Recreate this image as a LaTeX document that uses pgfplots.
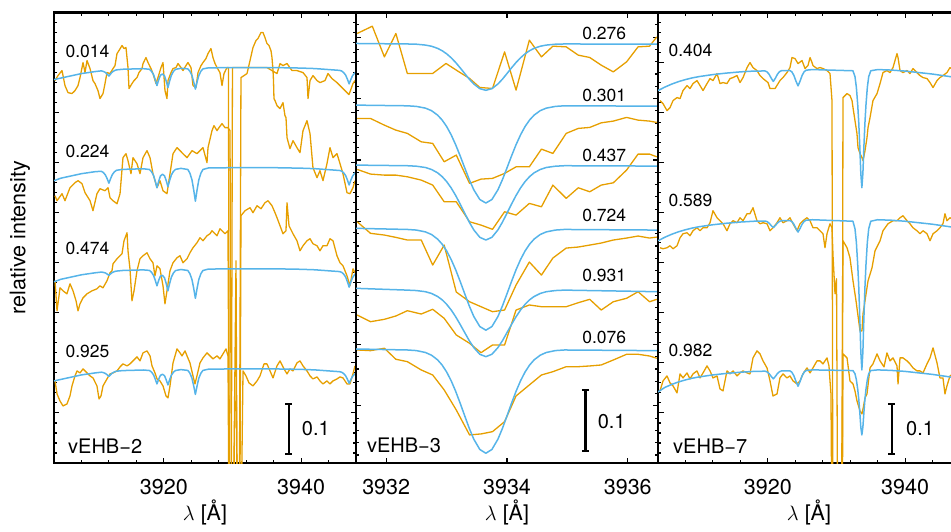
\documentclass[border=0pt]{standalone}
\usepackage{fontspec}
\setmainfont{TeX Gyre Heros}
\usepackage{pgfplots}
\pgfplotsset{compat=1.18}
\usepackage{pgfplotstable}

\definecolor{obs}{RGB}{230,159,0}
\definecolor{mod}{RGB}{86,180,233}

\pgfplotsset{
  spec/.style={
    scale only axis, width=302pt, height=450.5pt,
    axis line style={line width=2.6pt},
    tick style={line width=1.1pt, black},
    major tick length=5.5pt, minor tick length=3pt,
    tick align=inside, tick pos=both, xticklabel pos=lower,
    yticklabels={},
    xticklabel style={font=\fontsize{21.5}{26}\selectfont, anchor=center, yshift=-24pt},
    /pgf/number format/assume math mode=true,
    /pgf/number format/1000 sep={},
    xlabel={$\lambda$ [Å]},
    xlabel style={font=\fontsize{21.5}{26}\selectfont, at={(axis description cs:0.5,-0.11)}, anchor=center},
  },
  wide/.style={xmin=3904, xmax=3948, ymin=0.1, ymax=1.0,
    xtick={3900,3920,3940,3960}, minor x tick num=4,
    ytick={0.1,0.2,...,1.0}, minor y tick num=4},
  obsline/.style={obs, line width=1.3pt, line join=round},
  modline/.style={mod, line width=1.5pt, line join=round},
}
\newcommand{\phasefont}{\fontsize{17.5}{20}\selectfont}
\newcommand{\namefont}{\fontsize{20}{24}\selectfont}

% model spectra, left panel (vEHB-2), one column per phase
\pgfplotstableread{
lam b1 b2 b3 b4
3904 0.866 0.664 0.462 0.264
3905 0.869 0.669 0.467 0.267
3906 0.872 0.672 0.470 0.270
3907 0.875 0.675 0.473 0.273
3908 0.878 0.678 0.476 0.276
3909 0.880 0.680 0.478 0.278
3910 0.882 0.682 0.480 0.280
3910.9 0.8834 0.6828 0.4814 0.2814
3911.2 0.8822 0.6802 0.4808 0.2806
3911.5 0.8802 0.6752 0.4796 0.2788
3911.75 0.8768 0.6678 0.4774 0.2762
3912.0 0.8730 0.6590 0.4750 0.2730
3912.25 0.8774 0.6682 0.4780 0.2766
3912.5 0.8812 0.6762 0.4806 0.2798
3912.8 0.8838 0.6816 0.4824 0.2820
3913.1 0.8854 0.6848 0.4834 0.2834
3914 0.8866 0.6866 0.4846 0.2846
3915.5 0.8872 0.6872 0.4852 0.2852
3917 0.8878 0.6878 0.4858 0.2858
3917.9 0.8866 0.6864 0.4848 0.2848
3918.2 0.8828 0.6822 0.4812 0.2818
3918.5 0.8760 0.6746 0.4748 0.2762
3918.75 0.8658 0.6632 0.4652 0.2678
3919.0 0.8540 0.6500 0.4540 0.2580
3919.25 0.8654 0.6628 0.4648 0.2674
3919.5 0.8746 0.6732 0.4732 0.2750
3919.8 0.8772 0.6769 0.4749 0.2773
3920.1 0.8734 0.6738 0.4700 0.2744
3920.35 0.8630 0.6642 0.4584 0.2662
3920.6 0.8500 0.6520 0.4440 0.2560
3920.85 0.8632 0.6646 0.4586 0.2664
3921.1 0.8746 0.6754 0.4712 0.2754
3921.4 0.8822 0.6826 0.4796 0.2814
3921.7 0.8864 0.6866 0.4844 0.2848
3922.5 0.8886 0.6886 0.4866 0.2866
3923.5 0.8874 0.6864 0.4846 0.2850
3923.8 0.8826 0.6790 0.4782 0.2794
3924.1 0.8742 0.6658 0.4666 0.2694
3924.35 0.8616 0.6460 0.4492 0.2544
3924.6 0.8470 0.6230 0.4290 0.2370
3924.85 0.8616 0.6460 0.4492 0.2544
3925.1 0.8742 0.6658 0.4666 0.2694
3925.4 0.8826 0.6790 0.4782 0.2794
3925.7 0.8874 0.6864 0.4846 0.2850
3926.5 0.8894 0.6894 0.4874 0.2874
3930 0.890 0.690 0.488 0.288
3936 0.890 0.690 0.488 0.288
3940 0.889 0.689 0.487 0.287
3942 0.888 0.688 0.486 0.286
3944 0.886 0.686 0.484 0.284
3945.6 0.8844 0.6844 0.4824 0.2824
3945.9 0.8832 0.6832 0.4811 0.2814
3946.2 0.8800 0.6798 0.4775 0.2787
3946.5 0.8747 0.6740 0.4713 0.2741
3946.75 0.8667 0.6654 0.4621 0.2673
3947.0 0.8574 0.6554 0.4514 0.2594
3947.25 0.8663 0.6650 0.4617 0.2669
3947.5 0.8739 0.6732 0.4705 0.2733
3947.8 0.8789 0.6786 0.4763 0.2775
3948 0.8810 0.6810 0.4788 0.2792
}\modtwo

% model spectra, middle panel (vEHB-3)
\pgfplotstableread{
lam m1 m2 m3 m4 m5 m6
3931.5 1.0896 0.9893 0.8917 0.7888 0.6912 0.5925
3932.35 1.0888 0.9882 0.8907 0.7870 0.6883 0.5909
3932.5 1.0884 0.9872 0.8899 0.7860 0.6876 0.5899
3932.65 1.0870 0.9844 0.8878 0.7830 0.6857 0.5868
3932.75 1.0851 0.9803 0.8846 0.7788 0.6829 0.5824
3932.85 1.0817 0.9731 0.8792 0.7714 0.6780 0.5749
3932.925 1.0779 0.9652 0.8731 0.7632 0.6726 0.5665
3933.0 1.0728 0.9546 0.8650 0.7522 0.6653 0.5552
3933.075 1.0664 0.9411 0.8547 0.7382 0.6561 0.5409
3933.15 1.0587 0.9249 0.8423 0.7215 0.6450 0.5237
3933.225 1.0499 0.9066 0.8283 0.7024 0.6324 0.5042
3933.3 1.0407 0.8872 0.8135 0.6824 0.6192 0.4837
3933.375 1.0316 0.8682 0.7990 0.6627 0.6061 0.4635
3933.45 1.0237 0.8516 0.7863 0.6454 0.5948 0.4458
3933.55 1.0161 0.8357 0.7742 0.6290 0.5839 0.4290
3933.65 1.0134 0.8300 0.7698 0.6231 0.5800 0.4229
3933.75 1.0161 0.8357 0.7742 0.6290 0.5839 0.4290
3933.85 1.0237 0.8516 0.7863 0.6454 0.5948 0.4458
3933.925 1.0316 0.8682 0.7990 0.6627 0.6061 0.4635
3934.0 1.0407 0.8872 0.8135 0.6824 0.6192 0.4837
3934.075 1.0499 0.9066 0.8283 0.7024 0.6324 0.5042
3934.15 1.0587 0.9249 0.8423 0.7215 0.6450 0.5237
3934.225 1.0664 0.9411 0.8547 0.7382 0.6561 0.5409
3934.3 1.0728 0.9546 0.8650 0.7522 0.6653 0.5552
3934.375 1.0779 0.9652 0.8731 0.7632 0.6726 0.5665
3934.45 1.0817 0.9731 0.8792 0.7714 0.6780 0.5749
3934.55 1.0851 0.9803 0.8846 0.7788 0.6829 0.5824
3934.65 1.0870 0.9844 0.8878 0.7830 0.6857 0.5868
3934.8 1.0884 0.9872 0.8899 0.7860 0.6876 0.5899
3934.95 1.0888 0.9882 0.8907 0.7870 0.6883 0.5909
3936.5 1.0885 0.9876 0.8901 0.7860 0.6857 0.5898
}\modthree

% model spectra, right panel (vEHB-7)
\pgfplotstableread{
lam c1 c2 c3
3904 0.844 0.544 0.242
3905 0.851 0.551 0.251
3906 0.857 0.557 0.257
3907 0.862 0.562 0.262
3908 0.866 0.566 0.266
3909 0.8694 0.5694 0.2694
3910 0.872 0.572 0.272
3911 0.874 0.574 0.274
3912 0.876 0.576 0.276
3914 0.879 0.579 0.279
3916 0.8814 0.5814 0.2814
3918 0.883 0.583 0.283
3919.6 0.8832 0.5834 0.2834
3919.9 0.8812 0.5822 0.2820
3920.2 0.8762 0.5790 0.2784
3920.5 0.8686 0.5742 0.2728
3920.8 0.8622 0.5702 0.2682
3921.1 0.8688 0.5744 0.2730
3921.4 0.8766 0.5794 0.2787
3921.7 0.8818 0.5828 0.2824
3922.0 0.8838 0.5840 0.2840
3923.2 0.8842 0.5844 0.2842
3923.5 0.8814 0.5824 0.2814
3923.8 0.8742 0.5770 0.2742
3924.1 0.8630 0.5686 0.2630
3924.4 0.8534 0.5614 0.2534
3924.7 0.8630 0.5686 0.2630
3925.0 0.8744 0.5772 0.2744
3925.3 0.8818 0.5828 0.2818
3925.6 0.8848 0.5850 0.2848
3926.5 0.886 0.586 0.286
3932.4 0.8836 0.5830 0.2847
3932.7 0.8718 0.5680 0.2782
3932.9 0.8506 0.5410 0.2665
3933.1 0.8152 0.4960 0.2470
3933.25 0.7798 0.4510 0.2275
3933.4 0.7326 0.3910 0.2015
3933.55 0.6784 0.3220 0.1716
3933.7 0.6500 0.2860 0.1560
3933.85 0.6784 0.3220 0.1716
3934.0 0.7326 0.3910 0.2015
3934.15 0.7798 0.4510 0.2275
3934.3 0.8152 0.4960 0.2470
3934.5 0.8506 0.5410 0.2665
3934.7 0.8718 0.5680 0.2782
3935.0 0.8836 0.5830 0.2847
3936 0.886 0.586 0.286
3938 0.885 0.585 0.285
3940 0.883 0.583 0.283
3942 0.880 0.580 0.280
3944 0.877 0.577 0.277
3946 0.873 0.573 0.273
3948 0.869 0.569 0.269
}\modseven

\begin{document}
\begin{tikzpicture}
\useasboundingbox (0pt,0pt) rectangle (951pt,531pt);

% ---------------- vEHB-2 ----------------
\begin{axis}[spec, wide, at={(54pt,68pt)}, anchor=south west,
  ylabel={relative intensity},
  ylabel style={font=\fontsize{21.5}{26}\selectfont, at={(axis description cs:-0.113,0.5)}, anchor=center}]
\addplot[obsline] coordinates {(3904.15,0.864) (3904.58,0.874) (3905.17,0.884) (3905.60,0.854) (3906.04,0.840) (3906.62,0.838) (3907.06,0.844) (3907.50,0.854) (3907.79,0.870) (3908.23,0.900) (3908.52,0.880) (3908.81,0.904) (3909.25,0.888) (3909.68,0.864) (3909.97,0.858) (3910.41,0.844) (3910.70,0.828) (3911.14,0.838) (3911.43,0.858) (3911.72,0.880) (3912.16,0.878) (3912.60,0.888) (3912.89,0.894) (3913.18,0.918) (3913.47,0.924) (3913.91,0.934) (3914.20,0.928) (3914.49,0.930) (3914.78,0.890) (3914.93,0.848) (3915.36,0.858) (3915.66,0.864) (3916.09,0.870) (3916.38,0.880) (3916.82,0.888) (3916.97,0.898) (3917.40,0.910) (3917.70,0.900) (3918.13,0.888) (3918.42,0.878) (3918.86,0.858) (3919.15,0.870) (3919.59,0.890) (3919.88,0.900) (3920.17,0.844) (3920.46,0.828) (3920.61,0.864) (3921.05,0.880) (3921.34,0.888) (3921.77,0.890) (3922.07,0.898) (3922.50,0.890) (3922.79,0.884) (3923.23,0.894) (3923.52,0.900) (3923.96,0.890) (3924.25,0.854) (3924.69,0.850) (3924.98,0.880) (3925.42,0.894) (3925.71,0.900) (3926.14,0.908) (3926.44,0.918) (3926.87,0.928) (3927.16,0.910) (3927.46,0.898) (3927.75,0.890) (3928.18,0.880) (3928.48,0.854) (3928.77,0.878) (3929.20,0.890) (3929.42,0.890) (3929.57,-0.2) (3929.79,-0.2) (3930.00,0.890) (3934.01,0.890) (3934.45,0.890) (3935.03,0.890) (3935.76,0.884) (3936.49,0.878) (3936.93,0.898) (3937.36,0.894) (3937.95,0.898) (3938.67,0.884) (3939.40,0.884) (3940.28,0.880) (3940.86,0.870) (3941.01,0.828) (3941.30,0.864) (3941.73,0.874) (3942.32,0.864) (3942.75,0.860) (3943.48,0.864) (3943.92,0.878) (3944.50,0.868) (3945.23,0.860) (3945.96,0.850) (3946.69,0.840) (3946.98,0.836) (3947.56,0.858) (3947.85,0.864)};
\addplot[obsline] coordinates {(3904.15,0.634) (3904.44,0.624) (3905.17,0.638) (3905.60,0.624) (3906.33,0.650) (3907.06,0.660) (3907.50,0.664) (3908.08,0.658) (3908.52,0.640) (3909.25,0.624) (3909.68,0.604) (3910.26,0.638) (3910.70,0.648) (3911.43,0.644) (3911.87,0.650) (3912.16,0.630) (3912.60,0.624) (3913.18,0.618) (3913.62,0.638) (3914.05,0.710) (3914.49,0.718) (3914.78,0.704) (3915.22,0.678) (3915.51,0.710) (3916.09,0.698) (3916.53,0.678) (3916.97,0.710) (3917.55,0.724) (3917.99,0.710) (3918.42,0.678) (3919.01,0.650) (3919.44,0.664) (3919.88,0.644) (3920.46,0.638) (3920.90,0.678) (3921.34,0.718) (3921.92,0.730) (3922.36,0.724) (3922.79,0.718) (3923.38,0.710) (3924.11,0.724) (3924.83,0.718) (3925.27,0.724) (3925.71,0.730) (3926.29,0.700) (3926.44,0.730) (3927.02,0.764) (3927.31,0.774) (3927.75,0.764) (3928.04,0.770) (3928.48,0.778) (3928.91,0.770) (3929.35,0.770) (3929.64,0.764) (3929.93,-0.2) (3930.95,-0.2) (3931.24,0.870) (3931.68,0.874) (3932.12,0.878) (3932.56,0.904) (3932.99,0.930) (3933.43,0.944) (3933.72,0.948) (3934.16,0.960) (3934.45,0.960) (3934.74,0.950) (3935.03,0.938) (3935.32,0.934) (3935.61,0.924) (3935.76,0.910) (3935.91,0.884) (3935.98,0.864) (3936.05,0.828) (3936.20,0.824) (3936.49,0.814) (3936.93,0.808) (3937.36,0.820) (3937.65,0.794) (3937.80,0.790) (3937.95,0.750) (3938.38,0.728) (3938.82,0.744) (3939.40,0.730) (3939.84,0.720) (3940.28,0.764) (3940.86,0.784) (3941.30,0.758) (3941.73,0.690) (3942.32,0.670) (3942.75,0.684) (3943.19,0.664) (3943.77,0.698) (3944.21,0.730) (3944.65,0.710) (3945.23,0.718) (3945.67,0.698) (3946.10,0.678) (3946.69,0.640) (3947.12,0.638) (3947.56,0.650) (3947.85,0.664)};
\addplot[obsline] coordinates {(3904.15,0.464) (3904.44,0.404) (3904.73,0.434) (3904.87,0.450) (3905.31,0.444) (3905.89,0.438) (3906.33,0.458) (3906.77,0.444) (3907.21,0.424) (3907.50,0.404) (3907.79,0.418) (3908.23,0.430) (3908.81,0.438) (3909.54,0.444) (3910.26,0.448) (3910.70,0.454) (3911.14,0.450) (3911.72,0.464) (3912.16,0.480) (3912.45,0.484) (3912.60,0.498) (3913.18,0.508) (3913.91,0.518) (3914.20,0.544) (3914.64,0.560) (3914.78,0.524) (3915.07,0.488) (3915.36,0.424) (3915.66,0.444) (3916.09,0.484) (3916.53,0.508) (3916.97,0.514) (3917.55,0.520) (3917.99,0.508) (3918.42,0.500) (3918.71,0.474) (3919.01,0.494) (3919.44,0.488) (3919.88,0.454) (3920.17,0.418) (3920.46,0.444) (3920.90,0.484) (3921.34,0.500) (3921.92,0.510) (3922.36,0.514) (3922.79,0.500) (3923.38,0.508) (3923.81,0.520) (3924.25,0.530) (3924.83,0.540) (3925.27,0.550) (3925.71,0.544) (3926.29,0.554) (3926.73,0.558) (3927.02,0.564) (3927.75,0.554) (3928.18,0.568) (3928.91,0.558) (3929.35,0.564) (3929.64,-0.2) (3930.00,-0.2) (3930.52,0.504) (3930.74,-0.2) (3931.03,-0.2) (3931.24,0.594) (3931.83,0.604) (3932.56,0.610) (3932.99,0.600) (3933.58,0.614) (3934.16,0.608) (3934.74,0.620) (3935.18,0.624) (3935.76,0.614) (3936.20,0.600) (3936.49,0.590) (3936.93,0.574) (3937.36,0.558) (3937.80,0.564) (3937.95,0.620) (3938.24,0.574) (3938.82,0.558) (3939.40,0.544) (3939.84,0.524) (3940.28,0.534) (3940.86,0.544) (3941.30,0.548) (3941.73,0.538) (3942.32,0.534) (3942.75,0.524) (3943.19,0.534) (3943.77,0.534) (3944.21,0.548) (3944.65,0.544) (3945.23,0.514) (3945.67,0.500) (3946.10,0.494) (3946.69,0.474) (3947.12,0.454) (3947.56,0.488) (3947.85,0.480)};
\addplot[obsline] coordinates {(3904.15,0.264) (3904.44,0.238) (3904.87,0.224) (3905.31,0.214) (3905.89,0.218) (3906.33,0.234) (3906.62,0.254) (3907.06,0.274) (3907.35,0.284) (3907.79,0.280) (3908.23,0.288) (3908.81,0.280) (3909.25,0.274) (3909.68,0.270) (3910.26,0.254) (3910.56,0.228) (3910.85,0.234) (3911.14,0.254) (3911.72,0.268) (3912.16,0.278) (3912.60,0.280) (3913.18,0.284) (3913.62,0.292) (3914.05,0.298) (3914.64,0.294) (3915.07,0.298) (3915.51,0.304) (3916.09,0.312) (3916.53,0.304) (3916.97,0.320) (3917.55,0.324) (3917.99,0.314) (3918.28,0.294) (3918.71,0.280) (3919.01,0.268) (3919.44,0.264) (3919.88,0.254) (3920.32,0.234) (3920.61,0.230) (3920.90,0.254) (3921.34,0.300) (3921.92,0.328) (3922.36,0.320) (3922.65,0.314) (3923.09,0.324) (3923.38,0.314) (3923.81,0.300) (3924.25,0.274) (3924.54,0.258) (3924.83,0.274) (3925.27,0.300) (3925.71,0.310) (3926.29,0.320) (3926.73,0.314) (3927.16,0.308) (3927.75,0.314) (3928.18,0.308) (3928.62,0.318) (3929.06,0.328) (3929.35,0.314) (3929.57,-0.2) (3929.93,-0.2) (3930.37,0.224) (3930.59,0.210) (3930.81,-0.2) (3931.10,-0.2) (3931.54,0.284) (3931.97,0.274) (3932.41,0.260) (3932.99,0.254) (3933.58,0.264) (3934.01,0.274) (3934.60,0.298) (3935.03,0.298) (3935.47,0.284) (3935.91,0.270) (3936.49,0.294) (3936.93,0.304) (3937.51,0.288) (3937.95,0.278) (3938.38,0.288) (3938.82,0.284) (3939.40,0.300) (3939.84,0.304) (3940.28,0.294) (3940.86,0.284) (3941.30,0.274) (3941.73,0.268) (3942.32,0.272) (3942.75,0.264) (3943.19,0.258) (3943.77,0.264) (3944.21,0.258) (3944.65,0.264) (3945.23,0.268) (3945.67,0.272) (3946.10,0.270) (3946.69,0.258) (3947.12,0.258) (3947.56,0.278) (3947.85,0.294)};
\addplot[modline] table[x=lam, y=b1] {\modtwo};
\addplot[modline] table[x=lam, y=b2] {\modtwo};
\addplot[modline] table[x=lam, y=b3] {\modtwo};
\addplot[modline] table[x=lam, y=b4] {\modtwo};
\node[anchor=west, font=\phasefont] at (axis cs:3905.17,0.922) {0.014};
\node[anchor=west, font=\phasefont] at (axis cs:3905.17,0.722) {0.224};
\node[anchor=west, font=\phasefont] at (axis cs:3905.17,0.528) {0.474};
\node[anchor=west, font=\phasefont] at (axis cs:3905.17,0.322) {0.925};
\node[anchor=west, font=\namefont, inner sep=0pt] at (axis cs:3906.04,0.134) {vEHB−2};
\draw[line width=2.3pt] (axis cs:3938.2,0.118) -- (axis cs:3938.2,0.218);
\draw[line width=2pt] (axis cs:3938.2,0.118) ++(-3.6pt,0pt) -- ++(7.2pt,0pt);
\draw[line width=2pt] (axis cs:3938.2,0.218) ++(-3.6pt,0pt) -- ++(7.2pt,0pt);
\node[anchor=west, font=\namefont, inner sep=0pt] at (axis cs:3940.1,0.168) {0.1};
\end{axis}

% ---------------- vEHB-3 ----------------
\begin{axis}[spec, at={(356pt,68pt)}, anchor=south west,
  xmin=3931.5, xmax=3936.5, ymin=0.407, ymax=1.14,
  xtick={3930,3932,...,3938}, minor x tick num=3,
  ytick={0.4,0.5,...,1.2}, minor y tick num=4]
\addplot[obsline] coordinates {(3931.52,1.1059) (3931.77,1.1177) (3931.97,1.0678) (3932.16,1.1059) (3932.35,1.0408) (3932.58,1.0408) (3932.77,1.0408) (3932.99,1.0571) (3933.18,1.0450) (3933.38,1.0327) (3933.55,1.0180) (3933.76,1.0164) (3933.96,1.0759) (3934.15,1.0137) (3934.37,1.0950) (3934.57,1.0678) (3934.76,1.0852) (3934.98,1.0841) (3935.18,1.0706) (3935.37,1.0668) (3935.56,1.0543) (3935.76,1.0434) (3935.98,1.0597) (3936.17,1.0841) (3936.36,1.0852) (3936.48,1.1003)};
\addplot[obsline] coordinates {(3931.52,0.9676) (3931.74,0.9676) (3931.97,0.9567) (3932.16,0.9486) (3932.35,0.9433) (3932.58,0.9296) (3932.77,0.9270) (3932.96,0.8971) (3933.16,0.9080) (3933.38,0.8620) (3933.57,0.8689) (3933.76,0.8701) (3933.96,0.8782) (3934.15,0.8889) (3934.37,0.8889) (3934.57,0.9177) (3934.76,0.9107) (3934.98,0.9433) (3935.18,0.9514) (3935.37,0.9530) (3935.56,0.9605) (3935.76,0.9633) (3935.98,0.9693) (3936.17,0.9649) (3936.36,0.9633) (3936.48,0.9611)};
\addplot[obsline] coordinates {(3931.52,0.8847) (3931.74,0.8771) (3931.97,0.8754) (3932.16,0.8754) (3932.35,0.8727) (3932.58,0.8673) (3932.77,0.8592) (3932.96,0.8320) (3933.16,0.8320) (3933.38,0.7995) (3933.57,0.7941) (3933.76,0.7872) (3933.96,0.8158) (3934.15,0.8104) (3934.37,0.8294) (3934.57,0.8239) (3934.76,0.8592) (3934.98,0.8376) (3935.18,0.8548) (3935.37,0.8483) (3935.56,0.8592) (3935.76,0.8629) (3935.98,0.8836) (3936.17,0.9096) (3936.36,0.9096) (3936.48,0.9052)};
\addplot[obsline] coordinates {(3931.52,0.7995) (3931.74,0.7807) (3931.97,0.7779) (3932.16,0.7741) (3932.35,0.7698) (3932.58,0.7698) (3932.77,0.7291) (3932.96,0.7616) (3933.16,0.6852) (3933.38,0.6694) (3933.57,0.6613) (3933.76,0.6532) (3933.96,0.6559) (3934.15,0.6966) (3934.37,0.7340) (3934.57,0.7128) (3934.76,0.7405) (3934.98,0.7567) (3935.18,0.7584) (3935.37,0.7616) (3935.56,0.7649) (3935.76,0.7698) (3935.98,0.7730) (3936.17,0.7763) (3936.36,0.7730) (3936.48,0.7746)};
\addplot[obsline] coordinates {(3931.52,0.6478) (3931.74,0.6369) (3931.97,0.6408) (3932.16,0.6462) (3932.35,0.6548) (3932.58,0.6494) (3932.77,0.6571) (3932.96,0.6424) (3933.16,0.6153) (3933.38,0.6018) (3933.57,0.5865) (3933.76,0.5990) (3933.96,0.5990) (3934.15,0.6559) (3934.37,0.6641) (3934.57,0.6613) (3934.76,0.6613) (3934.98,0.6613) (3935.18,0.6678) (3935.37,0.6733) (3935.56,0.6559) (3935.76,0.6694) (3935.98,0.6750) (3936.17,0.6857) (3936.36,0.6694) (3936.48,0.6733)};
\addplot[obsline] coordinates {(3931.52,0.5909) (3931.74,0.5898) (3931.97,0.5937) (3932.16,0.5758) (3932.35,0.5719) (3932.58,0.5584) (3932.77,0.5502) (3932.96,0.5259) (3933.16,0.4933) (3933.38,0.4527) (3933.57,0.4543) (3933.76,0.4580) (3933.96,0.4743) (3934.15,0.5161) (3934.37,0.5340) (3934.57,0.5502) (3934.76,0.5556) (3934.98,0.5637) (3935.18,0.5637) (3935.37,0.5649) (3935.56,0.5665) (3935.76,0.5746) (3935.98,0.5839) (3936.17,0.5839) (3936.36,0.5811) (3936.48,0.5774)};
\addplot[modline] table[x=lam, y=m1] {\modthree};
\addplot[modline] table[x=lam, y=m2] {\modthree};
\addplot[modline] table[x=lam, y=m3] {\modthree};
\addplot[modline] table[x=lam, y=m4] {\modthree};
\addplot[modline] table[x=lam, y=m5] {\modthree};
\addplot[modline] table[x=lam, y=m6] {\modthree};
\node[anchor=east, font=\phasefont] at (axis cs:3936.03,1.106) {0.276};
\node[anchor=east, font=\phasefont] at (axis cs:3936.03,1.0055) {0.301};
\node[anchor=east, font=\phasefont] at (axis cs:3936.03,0.908) {0.437};
\node[anchor=east, font=\phasefont] at (axis cs:3936.03,0.8104) {0.724};
\node[anchor=east, font=\phasefont] at (axis cs:3936.03,0.713) {0.931};
\node[anchor=east, font=\phasefont] at (axis cs:3936.03,0.612) {0.076};
\node[anchor=west, font=\namefont, inner sep=0pt] at (axis cs:3931.68,0.4364) {vEHB−3};
\draw[line width=2.3pt] (axis cs:3935.30,0.426) -- (axis cs:3935.30,0.526);
\draw[line width=2pt] (axis cs:3935.30,0.426) ++(-3.6pt,0pt) -- ++(7.2pt,0pt);
\draw[line width=2pt] (axis cs:3935.30,0.526) ++(-3.6pt,0pt) -- ++(7.2pt,0pt);
\node[anchor=west, font=\namefont, inner sep=0pt] at (axis cs:3935.5,0.4743) {0.1};
\end{axis}

% ---------------- vEHB-7 ----------------
\begin{axis}[spec, wide, at={(658pt,68pt)}, anchor=south west]
\addplot[obsline] coordinates {(3904.29,0.824) (3904.73,0.818) (3905.31,0.804) (3905.75,0.810) (3906.19,0.824) (3906.77,0.830) (3907.21,0.828) (3907.64,0.844) (3908.23,0.854) (3908.66,0.848) (3909.10,0.858) (3909.68,0.864) (3910.12,0.854) (3910.56,0.844) (3911.14,0.858) (3911.58,0.868) (3912.01,0.864) (3912.60,0.878) (3913.03,0.858) (3913.47,0.860) (3914.05,0.858) (3914.49,0.868) (3914.93,0.870) (3915.51,0.874) (3915.95,0.860) (3916.39,0.870) (3916.97,0.890) (3917.40,0.900) (3917.84,0.890) (3918.42,0.884) (3918.86,0.874) (3919.30,0.868) (3920.03,0.860) (3920.32,0.848) (3921.05,0.848) (3921.77,0.864) (3922.21,0.870) (3922.79,0.880) (3923.23,0.890) (3923.52,0.910) (3923.96,0.908) (3924.40,0.898) (3924.98,0.904) (3925.42,0.888) (3925.85,0.894) (3926.15,0.910) (3926.44,0.900) (3926.58,0.894) (3927.16,0.888) (3927.60,0.890) (3928.04,0.888) (3928.62,0.884) (3929.06,0.878) (3929.35,0.824) (3929.50,-0.2) (3930.81,-0.2) (3930.95,0.830) (3931.54,0.838) (3931.97,0.834) (3932.27,0.824) (3932.41,0.810) (3932.70,0.784) (3932.99,0.758) (3933.14,0.730) (3933.43,0.718) (3933.72,0.710) (3933.87,0.704) (3934.16,0.724) (3934.45,0.750) (3934.60,0.770) (3934.89,0.790) (3935.32,0.824) (3935.91,0.838) (3936.35,0.858) (3936.78,0.880) (3937.36,0.884) (3937.80,0.880) (3938.24,0.890) (3938.82,0.918) (3938.97,0.910) (3939.26,0.884) (3939.69,0.880) (3940.28,0.884) (3940.71,0.878) (3941.15,0.888) (3941.73,0.880) (3942.17,0.874) (3942.61,0.870) (3943.19,0.868) (3943.63,0.860) (3944.07,0.850) (3944.65,0.864) (3945.08,0.870) (3945.52,0.874) (3946.10,0.880) (3946.54,0.890) (3947.27,0.884) (3948.00,0.880)};
\addplot[obsline] coordinates {(3904.29,0.530) (3904.73,0.528) (3905.31,0.530) (3905.75,0.534) (3906.19,0.528) (3906.77,0.534) (3907.21,0.550) (3907.64,0.558) (3908.23,0.560) (3908.66,0.554) (3909.10,0.564) (3909.68,0.570) (3910.12,0.564) (3910.56,0.570) (3911.14,0.570) (3911.58,0.580) (3912.01,0.604) (3912.60,0.590) (3913.03,0.584) (3913.47,0.578) (3914.05,0.564) (3914.49,0.578) (3914.93,0.584) (3915.51,0.580) (3915.95,0.590) (3916.39,0.584) (3916.97,0.598) (3917.40,0.598) (3917.84,0.610) (3918.42,0.584) (3918.86,0.578) (3919.30,0.580) (3919.88,0.578) (3920.32,0.564) (3920.75,0.570) (3921.34,0.580) (3921.77,0.590) (3922.21,0.580) (3922.79,0.584) (3923.23,0.590) (3923.67,0.578) (3924.25,0.564) (3924.69,0.578) (3925.12,0.584) (3925.71,0.590) (3926.15,0.584) (3926.58,0.570) (3927.16,0.570) (3927.60,0.564) (3928.04,0.558) (3928.33,0.530) (3928.62,0.558) (3929.06,0.578) (3929.35,0.570) (3929.50,0.514) (3929.79,0.438) (3930.01,0.468) (3930.23,-0.2) (3930.66,-0.2) (3930.95,0.544) (3931.54,0.530) (3931.97,0.510) (3932.41,0.464) (3932.85,0.424) (3933.14,0.394) (3933.43,0.364) (3933.72,0.364) (3933.87,0.398) (3934.16,0.424) (3934.60,0.464) (3935.18,0.490) (3935.62,0.524) (3936.35,0.544) (3936.78,0.564) (3937.51,0.578) (3938.24,0.584) (3938.82,0.584) (3939.26,0.590) (3939.69,0.594) (3940.28,0.584) (3940.71,0.578) (3941.15,0.570) (3941.73,0.564) (3942.17,0.558) (3942.61,0.564) (3943.19,0.558) (3943.63,0.544) (3944.07,0.558) (3944.65,0.564) (3945.08,0.570) (3945.52,0.578) (3945.81,0.598) (3946.10,0.584) (3946.54,0.590) (3947.27,0.584) (3948.00,0.580)};
\addplot[obsline] coordinates {(3904.29,0.244) (3904.73,0.264) (3905.31,0.274) (3905.75,0.260) (3906.19,0.254) (3906.77,0.240) (3907.21,0.278) (3907.64,0.270) (3908.23,0.280) (3908.66,0.268) (3909.10,0.278) (3909.68,0.284) (3910.12,0.270) (3910.56,0.280) (3911.14,0.294) (3911.58,0.284) (3912.01,0.270) (3912.60,0.274) (3913.03,0.248) (3913.47,0.244) (3914.05,0.284) (3914.49,0.278) (3914.93,0.284) (3915.51,0.274) (3915.95,0.280) (3916.39,0.284) (3916.97,0.280) (3917.40,0.278) (3917.84,0.310) (3918.42,0.324) (3918.86,0.318) (3919.30,0.304) (3919.88,0.290) (3920.32,0.264) (3920.75,0.234) (3921.34,0.238) (3921.77,0.270) (3922.21,0.278) (3922.79,0.270) (3923.23,0.274) (3923.67,0.264) (3924.25,0.258) (3924.69,0.264) (3925.12,0.278) (3925.71,0.290) (3926.15,0.280) (3926.58,0.290) (3927.16,0.304) (3927.60,0.304) (3928.04,0.298) (3928.62,0.310) (3928.91,0.294) (3929.06,0.264) (3929.20,0.238) (3929.42,-0.2) (3930.81,-0.2) (3930.95,0.318) (3931.54,0.310) (3931.97,0.264) (3932.41,0.258) (3932.70,0.244) (3932.99,0.224) (3933.43,0.204) (3933.72,0.198) (3933.87,0.208) (3934.16,0.230) (3934.45,0.238) (3934.89,0.290) (3935.32,0.298) (3935.91,0.318) (3936.35,0.304) (3936.93,0.292) (3937.36,0.320) (3937.80,0.304) (3938.24,0.310) (3938.82,0.294) (3938.97,0.258) (3939.26,0.310) (3939.69,0.310) (3940.28,0.304) (3940.71,0.298) (3941.15,0.290) (3941.73,0.284) (3942.17,0.284) (3942.61,0.280) (3943.19,0.298) (3943.63,0.310) (3944.07,0.330) (3944.65,0.300) (3945.08,0.270) (3945.52,0.270) (3945.81,0.238) (3946.10,0.254) (3946.54,0.274) (3947.27,0.280) (3948.00,0.284)};
\addplot[modline] table[x=lam, y=c1] {\modseven};
\addplot[modline] table[x=lam, y=c2] {\modseven};
\addplot[modline] table[x=lam, y=c3] {\modseven};
\node[anchor=west, font=\phasefont] at (axis cs:3905.02,0.924) {0.404};
\node[anchor=west, font=\phasefont] at (axis cs:3905.02,0.624) {0.589};
\node[anchor=west, font=\phasefont] at (axis cs:3905.02,0.324) {0.982};
\node[anchor=west, font=\namefont, inner sep=0pt] at (axis cs:3906.19,0.134) {vEHB−7};
\draw[line width=2.3pt] (axis cs:3938.05,0.118) -- (axis cs:3938.05,0.218);
\draw[line width=2pt] (axis cs:3938.05,0.118) ++(-3.6pt,0pt) -- ++(7.2pt,0pt);
\draw[line width=2pt] (axis cs:3938.05,0.218) ++(-3.6pt,0pt) -- ++(7.2pt,0pt);
\node[anchor=west, font=\namefont, inner sep=0pt] at (axis cs:3940.13,0.168) {0.1};
\end{axis}
\end{tikzpicture}
\end{document}
